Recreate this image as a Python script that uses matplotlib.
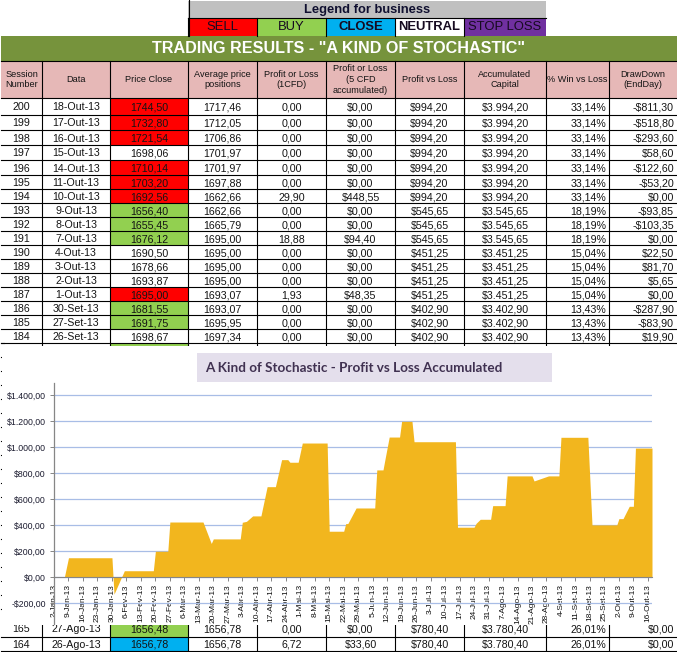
import matplotlib.pyplot as plt
from matplotlib.patches import Rectangle
import pandas as pd

plt.rcParams['font.family'] = ['Liberation Sans', 'DejaVu Sans']

# legend
legend_names = ['SELL', 'BUY', 'CLOSE', 'NEUTRAL', 'STOP LOSS']
legend_colors = ['#ff0000', '#92d050', '#00b0f0', '#ffffff', '#7030a0']

# table
headers = ['Session\nNumber', 'Data', 'Price Close', 'Average price\npositions',
           'Profit or Loss\n(1CFD)', 'Profit or Loss\n(5 CFD\naccumulated)',
           'Profit vs Loss', 'Accumulated\nCapital', '% Win vs Loss', 'DrawDown\n(EndDay)']
sessions = ['200', '199', '198', '197', '196', '195', '194', '193', '192',
            '191', '190', '189', '188', '187', '186', '185', '184']
days = ['18-Out-13', '17-Out-13', '16-Out-13', '15-Out-13', '14-Out-13', '11-Out-13',
        '10-Out-13', '9-Out-13', '8-Out-13', '7-Out-13', '4-Out-13', '3-Out-13',
        '2-Out-13', '1-Out-13', '30-Set-13', '27-Set-13', '26-Set-13']
price_close = ['1744,50', '1732,80', '1721,54', '1698,06', '1710,14', '1703,20',
               '1692,56', '1656,40', '1655,45', '1676,12', '1690,50', '1678,66',
               '1693,87', '1695,00', '1681,55', '1691,75', '1698,67']
price_state = ['SELL', 'SELL', 'SELL', 'NEUTRAL', 'SELL', 'SELL', 'SELL', 'BUY', 'BUY',
               'BUY', 'NEUTRAL', 'NEUTRAL', 'NEUTRAL', 'SELL', 'BUY', 'BUY', 'NEUTRAL']
avg_price = ['1717,46', '1712,05', '1706,86', '1701,97', '1701,97', '1697,88',
             '1662,66', '1662,66', '1665,79', '1695,00', '1695,00', '1695,00',
             '1695,00', '1693,07', '1693,07', '1695,95', '1697,34']
pl_1cfd = ['0,00', '0,00', '0,00', '0,00', '0,00', '0,00', '29,90', '0,00', '0,00',
           '18,88', '0,00', '0,00', '0,00', '1,93', '0,00', '0,00', '0,00']
pl_5cfd = ['$0,00', '$0,00', '$0,00', '$0,00', '$0,00', '$0,00', '$448,55', '$0,00', '$0,00',
           '$94,40', '$0,00', '$0,00', '$0,00', '$48,35', '$0,00', '$0,00', '$0,00']
profit = ['$994,20'] * 7 + ['$545,65'] * 3 + ['$451,25'] * 4 + ['$402,90'] * 3
capital = ['$3.994,20'] * 7 + ['$3.545,65'] * 3 + ['$3.451,25'] * 4 + ['$3.402,90'] * 3
win_pct = ['33,14%'] * 7 + ['18,19%'] * 3 + ['15,04%'] * 4 + ['13,43%'] * 3
drawdown = ['-$811,30', '-$518,80', '-$293,60', '$58,60', '-$122,60', '-$53,20', '$0,00',
            '-$93,85', '-$103,35', '$0,00', '$22,50', '$81,70', '$5,65', '$0,00',
            '-$287,90', '-$83,90', '$19,90']

# the two rows showing under the chart
low_rows = [['165', '27-Ago-13', '1656,48', '1656,78', '0,00', '$0,00', '$780,40', '$3.780,40', '26,01%', '$0,00'],
            ['164', '26-Ago-13', '1656,78', '1656,78', '6,72', '$33,60', '$780,40', '$3.780,40', '26,01%', '$0,00']]
low_state = ['BUY', 'CLOSE']

# chart
chart_dates = ['2013-01-02', '2013-01-07', '2013-01-09', '2013-01-30', '2013-01-31', '2013-02-05',
               '2013-02-19', '2013-02-20', '2013-02-26', '2013-02-27', '2013-03-15', '2013-03-19',
               '2013-03-20', '2013-04-02', '2013-04-03', '2013-04-05', '2013-04-08', '2013-04-12',
               '2013-04-15', '2013-04-19', '2013-04-22', '2013-04-25', '2013-04-26', '2013-04-30',
               '2013-05-02', '2013-05-14', '2013-05-15', '2013-05-22', '2013-05-23', '2013-05-24',
               '2013-05-28', '2013-06-06', '2013-06-07', '2013-06-10', '2013-06-11', '2013-06-13',
               '2013-06-18', '2013-06-19', '2013-06-24', '2013-06-25', '2013-07-15', '2013-07-16',
               '2013-07-24', '2013-07-25', '2013-07-27', '2013-08-01', '2013-08-02', '2013-08-08',
               '2013-08-09', '2013-08-21', '2013-08-22', '2013-08-29', '2013-09-03', '2013-09-04',
               '2013-09-17', '2013-09-19', '2013-10-01', '2013-10-02', '2013-10-04', '2013-10-07',
               '2013-10-09', '2013-10-10', '2013-10-18']
chart_values = [0, 0, 150, 150, -130, 50,
                50, 200, 200, 425, 425, 260,
                295, 295, 423, 430, 472, 472,
                697, 697, 905, 905, 885, 885,
                1033, 1033, 354, 354, 413, 413,
                533, 533, 826, 826, 912, 1079,
                1079, 1200, 1200, 1043, 1043, 385,
                385, 415, 446, 446, 551, 551,
                780, 780, 741, 780, 780, 1077,
                1077, 403, 403, 451, 451, 546,
                546, 994, 994]
x_labels = ['2-Jan-13', '9-Jan-13', '16-Jan-13', '23-Jan-13', '30-Jan-13', '6-Fev-13', '13-Fev-13',
            '20-Fev-13', '27-Fev-13', '6-Mar-13', '13-Mar-13', '20-Mar-13', '27-Mar-13', '3-Abr-13',
            '10-Abr-13', '17-Abr-13', '24-Abr-13', '1-Mai-13', '8-Mai-13', '15-Mai-13', '22-Mai-13',
            '29-Mai-13', '5-Jun-13', '12-Jun-13', '19-Jun-13', '26-Jun-13', '3-Jul-13', '10-Jul-13',
            '17-Jul-13', '24-Jul-13', '31-Jul-13', '7-Ago-13', '14-Ago-13', '21-Ago-13', '28-Ago-13',
            '4-Set-13', '11-Set-13', '18-Set-13', '25-Set-13', '2-Out-13', '9-Out-13', '16-Out-13']
y_ticks = [-200, 0, 200, 400, 600, 800, 1000, 1200, 1400]
y_labels = ['-$200,00', '$0,00', '$200,00', '$400,00', '$600,00', '$800,00',
            '$1.000,00', '$1.200,00', '$1.400,00']

W, H = 677, 652
fig = plt.figure(figsize=(W / 100, H / 100), dpi=100)

# everything except the area chart is laid out in pixels on one full axes
ax = fig.add_axes([0, 0, 1, 1])
ax.set_xlim(0, W)
ax.set_ylim(H, 0)
ax.axis('off')

state_color = dict(zip(legend_names, legend_colors))
col_x = [1, 42, 110, 188, 257, 326, 395, 464, 546, 609, 677]
leg_x = [188, 257, 326, 395, 464, 546]
row_y = [98, 115, 130, 145, 160, 175] + [189 + 14 * i for i in range(12)]
black = '#000000'
txt = '#141414'
lw = 0.8


def rect(x0, y0, x1, y1, color, z=1):
    ax.add_patch(Rectangle((x0, y0), x1 - x0, y1 - y0, fc=color, ec='none', zorder=z))


def cell_text(vals, y, fs=7.7):
    for c, v in enumerate(vals):
        if c >= 8:
            ax.text(col_x[c + 1] - 3, y, v, ha='right', va='center', fontsize=fs, color=txt, zorder=3)
        else:
            ax.text((col_x[c] + col_x[c + 1]) / 2, y, v, ha='center', va='center', fontsize=fs, color=txt, zorder=3)


# legend block
rect(188, 1, 546, 18, '#c0c0c0')
ax.text(367, 9.5, 'Legend for business', ha='center', va='center', fontsize=9.3, fontweight='bold', color='#101030')
for i, name in enumerate(legend_names):
    rect(leg_x[i], 18, leg_x[i + 1], 36, legend_colors[i])
    ax.text((leg_x[i] + leg_x[i + 1]) / 2, 27.5, name, ha='center', va='center', fontsize=9.4,
            fontweight='bold' if name in ('CLOSE', 'NEUTRAL') else 'normal', color='#160a20', zorder=3)
    ax.plot([leg_x[i]] * 2, [18, 36], color=black, lw=lw, zorder=2)
ax.plot([188.5, 188.5], [0, 36], color=black, lw=lw, zorder=2)
ax.plot([188, 546], [18, 18], color=black, lw=lw, zorder=2)

# title band
rect(1, 36, W, 61, '#76933c')
ax.text(338.5, 48.5, 'TRADING RESULTS - "A KIND OF STOCHASTIC"', ha='center', va='center',
        fontsize=11.6, fontweight='bold', color='#ffffff', zorder=3)

# header row
rect(1, 61, W, 98, '#e6b8b7')
for c, h in enumerate(headers):
    ax.text((col_x[c] + col_x[c + 1]) / 2, 79.5, h, ha='center', va='center', fontsize=6.6,
            color=txt, linespacing=1.25, zorder=3)

# body rows
for r in range(len(sessions)):
    y0, y1 = row_y[r], row_y[r + 1]
    if price_state[r] != 'NEUTRAL':
        rect(col_x[2], y0, col_x[3], y1, state_color[price_state[r]])
    cell_text([sessions[r], days[r], price_close[r], avg_price[r], pl_1cfd[r], pl_5cfd[r],
               profit[r], capital[r], win_pct[r], drawdown[r]], (y0 + y1) / 2 + 1)

# sliver of the next row, then rows hidden behind the chart
rect(col_x[2], 343, col_x[3], 347, state_color['BUY'])
for y in row_y + [61]:
    ax.plot([1, W], [y, y], color=black, lw=lw, zorder=2)
for x in col_x[1:-1]:
    ax.plot([x, x], [61, 347], color=black, lw=lw, zorder=2)
for y in range(343, 623, 14):
    ax.plot([1, 4], [y, y], color=black, lw=lw, zorder=2)

# lower rows
for i, (y0, y1) in enumerate([(623, 637), (637, 651)]):
    rect(col_x[2], y0, col_x[3], y1, state_color[low_state[i]])
    cell_text(low_rows[i], (y0 + y1) / 2 - 0.5 + i)
    ax.plot([1, W], [y1, y1], color=black, lw=lw, zorder=2)
for x in col_x[1:-1]:
    ax.plot([x, x], [623, 651], color=black, lw=lw, zorder=2)

# chart background sits over the table rows
rect(2, 346, W, 625, '#ffffff', z=5)
rect(197, 353, 552, 382, '#e4dfec', z=6)
ax.text(354, 367.5, 'A Kind of Stochastic - Profit vs Loss Accumulated', ha='center', va='center',
        fontsize=9.7, fontweight='bold', family='Lato', color='#403151', zorder=7)

# area chart
ax2 = fig.add_axes([54 / W, 1 - 624 / H, (652 - 54) / W, (624 - 383) / H])
ax2.patch.set_alpha(0)
# set_position resets the ticks, so it has to come before they are styled
ax2.spines['bottom'].set_position(('data', 0))
dates = pd.to_datetime(chart_dates)
ax2.fill_between(dates, chart_values, 0, color='#f2b61e', lw=0)
ax2.set_xlim(pd.Timestamp('2013-01-02'), pd.Timestamp('2013-10-18'))
ax2.set_ylim(-360, 1495)
ax2.set_xticks(pd.date_range('2013-01-02', periods=len(x_labels), freq='7D'))
ax2.set_xticklabels(x_labels, rotation=90, ha='center', va='top', fontsize=6.0, color='#111111')
ax2.set_yticks(y_ticks)
ax2.set_yticklabels(y_labels, fontsize=6.3, color='#1c1c30')
ax2.tick_params(axis='x', length=3, width=0.7, color='#868686', pad=2)
ax2.tick_params(axis='y', length=3, width=0.7, color='#868686', pad=3)
ax2.grid(axis='y', color='#a8bde6', lw=0.9)
ax2.set_axisbelow(True)
for s in ['top', 'right']:
    ax2.spines[s].set_visible(False)
ax2.spines['bottom'].set_color('#868686')
ax2.spines['left'].set_color('#868686')
ax2.spines['left'].set_linewidth(0.9)

fig.savefig('out.png', dpi=100)
